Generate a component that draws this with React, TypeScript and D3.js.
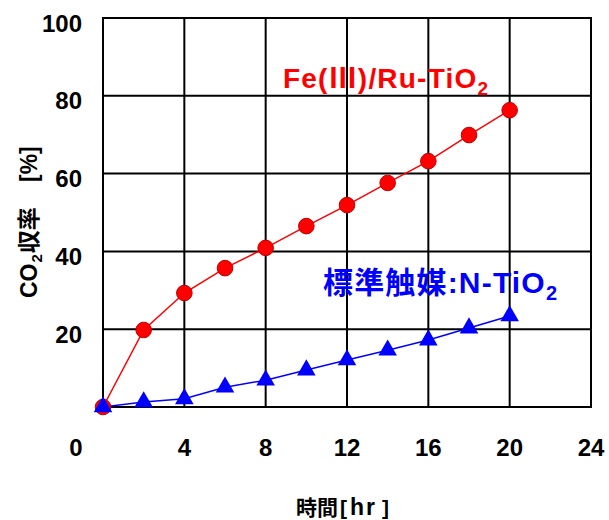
import React from "react";
import * as d3 from "d3";

const hours = [0, 2, 4, 6, 8, 10, 12, 14, 16, 18, 20];
const feRuValues = [0, 19.8, 29.3, 35.7, 40.9, 46.5, 51.9, 57.6, 63.2, 69.9, 76.3];
const nTiO2Values = [0, 1.3, 2.1, 5.1, 6.9, 9.5, 12.1, 14.6, 17.2, 20.3, 23.4];
const xTicks = [0, 4, 8, 12, 16, 20, 24];
const yTicks = [20, 40, 60, 80, 100];

const W = 609, H = 520;
const m = { left: 103, right: 591, top: 18, bottom: 407 };
const FONT = "'Liberation Sans', Arial, 'Noto Sans CJK JP', sans-serif";
const CJK = "'Liberation Sans', 'Noto Sans CJK JP', sans-serif";
const CJKONLY = "'Noto Sans CJK JP', sans-serif";

export default function App() {
  const x = d3.scaleLinear().domain([0, 24]).range([m.left, m.right]);
  const y = d3.scaleLinear().domain([0, 100]).range([m.bottom, m.top]);
  const line = d3.line<number>().x((_, i) => x(hours[i])).y((d) => y(d));
  const tri = d3.symbol().type(d3.symbolTriangle).size(150)();

  return (
    <svg width={W} height={H} style={{ position: "absolute", left: 0, top: 0, background: "#fff" }}>
      <rect x={0} y={0} width={W} height={H} fill="#fff" />
      {xTicks.map((t) => (
        <line key={"gx" + t} x1={x(t)} x2={x(t)} y1={m.top} y2={m.bottom} stroke="#000" strokeWidth={2} />
      ))}
      {[0, ...yTicks].map((t) => (
        <line key={"gy" + t} x1={m.left - 1} x2={m.right + 1} y1={y(t)} y2={y(t)} stroke="#000" strokeWidth={2} />
      ))}
      {yTicks.map((t) => (
        <text key={"yl" + t} x={82} y={y(t) + 13.5} textAnchor="end" fontFamily={FONT} fontWeight="bold" fontSize={24} fill="#000">
          {t}
        </text>
      ))}
      {xTicks.map((t) => (
        <text key={"xl" + t} x={t === 0 ? 76 : x(t)} y={456} textAnchor="middle" fontFamily={FONT} fontWeight="bold" fontSize={24} fill="#000">
          {t}
        </text>
      ))}
      <text transform="translate(37,298) rotate(-90)" fontFamily={CJK} fontWeight="bold" fontSize={23} fill="#000">
        <tspan x={0}>CO</tspan><tspan fontSize={15} dy={5} dx={1}>2</tspan><tspan dy={-5} dx={1}>収率</tspan>
        <tspan x={116}>[%]</tspan>
      </text>
      <text y={515} fontFamily={CJK} fontWeight="bold" fontSize={21} fill="#000">
        <tspan x={296}>時間</tspan><tspan x={340}>[</tspan><tspan x={350} fontSize={23} letterSpacing={2}>hr</tspan><tspan x={382}>]</tspan>
      </text>
      <path d={line(feRuValues) || ""} fill="none" stroke="#ff0000" strokeWidth={1.5} />
      <path d={line(nTiO2Values) || ""} fill="none" stroke="#0000ff" strokeWidth={1.5} />
      {feRuValues.map((v, i) => (
        <circle key={"r" + i} cx={x(hours[i])} cy={y(v)} r={7.8} fill="#ff0000" stroke="#c00000" strokeWidth={1} />
      ))}
      {nTiO2Values.map((v, i) => (
        <path key={"b" + i} d={tri || ""} transform={`translate(${x(hours[i])},${y(v)})`} fill="#0000ff" />
      ))}
      <text x={283} y={88} fontFamily={CJK} fontWeight="bold" fontSize={28} fill="#ff0000" textLength={205} lengthAdjust="spacing">
        Fe(<tspan fontFamily={CJKONLY}>Ⅲ</tspan>)/Ru-TiO<tspan fontSize={19} dy={7}>2</tspan>
      </text>
      <text x={323} y={293} fontFamily={CJK} fontWeight="bold" fontSize={30} fill="#0000ff" textLength={234} lengthAdjust="spacing">
        標準触媒:N-TiO<tspan fontSize={20} dy={7}>2</tspan>
      </text>
    </svg>
  );
}
